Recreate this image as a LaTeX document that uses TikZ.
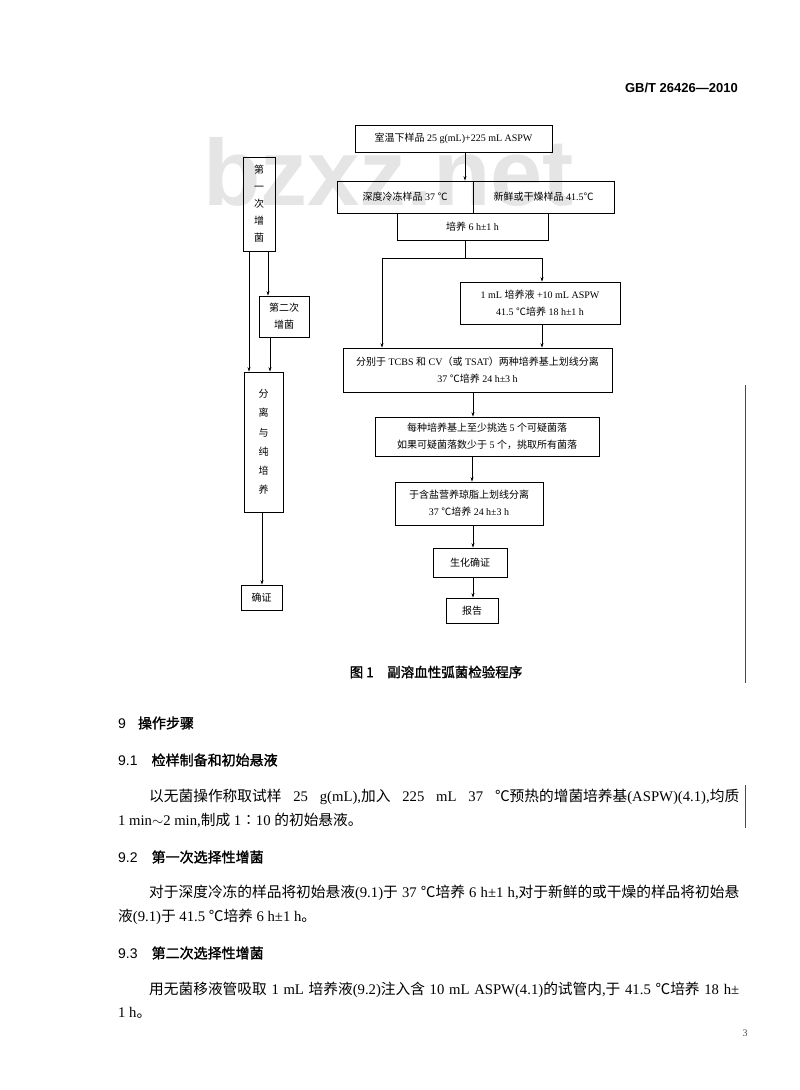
\documentclass[tikz,border=0pt]{standalone}
\usepackage{fontspec}
\setmainfont{Liberation Serif}
\newfontfamily\cjk{Noto Sans CJK SC}
\newfontfamily\cjkb[FakeBold=1.5]{Noto Sans CJK SC}
\newfontfamily\hdr{Liberation Sans}
\newcommand\zh[1]{{\cjk #1}}
\newcommand\zhb[1]{{\cjkb #1}}
\newcommand\fullline[1]{\makebox[590pt][s]{#1}}
\usetikzlibrary{arrows.meta}
\begin{document}
\begin{tikzpicture}[x=1pt,y=-1pt,
  box/.style={draw, line width=0.8pt, inner sep=0pt, align=center, font=\fontsize{10}{17}\selectfont},
  arr/.style={line width=0.6pt, -{Stealth[length=4.5pt,width=3pt]}},
  ln/.style={line width=0.6pt},
  body/.style={anchor=west, inner sep=0pt, font=\fontsize{14.7}{18}\selectfont},
  head/.style={anchor=west, inner sep=0pt, font=\fontsize{14}{18}\selectfont},
  marginline/.style={line width=0.8pt, black!70}]
\fill[white] (0,0) rectangle (800,1090);
\useasboundingbox (0,0) rectangle (800,1090);

% watermark
\node[anchor=base west, inner sep=0pt, text=black!10, font=\hdr\bfseries\fontsize{94}{94}\selectfont] (wmk) at (203,205) {bzxz.net};

% header
\node[anchor=east, inner sep=0pt, font=\hdr\bfseries\fontsize{13}{15}\selectfont] (hd) at (738,88) {GB/T 26426—2010};

% main column
\node[box, minimum width=197pt, minimum height=27pt] (b1) at (453.5,138.5) {\zh{室温下样品} 25 g(mL)+225 mL ASPW};
\node[box, minimum width=136pt, minimum height=32pt] (b2l) at (405,197) {\zh{深度冷冻样品} 37 \zh{℃}};
\node[box, minimum width=141pt, minimum height=32pt] (b2r) at (543.5,197) {\zh{新鲜或干燥样品} 41.5\zh{℃}};
\node[box, minimum width=151pt, minimum height=27pt] (b3) at (472.5,226.5) {\zh{培养} 6 h±1 h};
\node[box, minimum width=160pt, minimum height=42pt] (b4) at (540,303) {1 mL \zh{培养液} +10 mL ASPW\\41.5 \zh{℃培养} 18 h±1 h};
\node[box, minimum width=269pt, minimum height=44pt] (b5) at (477.5,370) {\zh{分别于} TCBS \zh{和} CV\zh{（或} TSAT\zh{）两种培养基上划线分离}\\37 \zh{℃培养} 24 h±3 h};
\node[box, minimum width=224pt, minimum height=39pt] (b6) at (487,436.5) {\zh{每种培养基上至少挑选} 5 \zh{个可疑菌落}\\\zh{如果可疑菌落数少于} 5 \zh{个，挑取所有菌落}};
\node[box, minimum width=148pt, minimum height=43pt] (b7) at (469,503.5) {\zh{于含盐营养琼脂上划线分离}\\37 \zh{℃培养} 24 h±3 h};
\node[box, minimum width=74pt, minimum height=29pt] (b8) at (470,562.5) {\zh{生化确证}};
\node[box, minimum width=52pt, minimum height=25pt] (b9) at (472,610.5) {\zh{报告}};

\coordinate (c1) at (465,181);
\draw[arr] (b1.south -| c1) -- (b2l.north -| c1);
\coordinate (sp) at (465,258);
\coordinate (spl) at (382,258);
\coordinate (spr) at (542,258);
\draw[ln] (b3.south -| sp) -- (sp);
\draw[ln] (spl) -- (spr);
\draw[arr] (spl) -- (b5.north -| spl);
\draw[arr] (spr) -- (b4.north -| spr);
\draw[arr] (b4.south -| spr) -- (b5.north -| spr);
\draw[arr] (b5.south -| 473,0) -- (b6.north -| 473,0);
\draw[arr] (b6.south -| 472,0) -- (b7.north -| 472,0);
\draw[arr] (b7.south -| 473,0) -- (b8.north -| 473,0);
\draw[arr] (b8.south -| 473,0) -- (b9.north -| 473,0);

% left column
\node[box, minimum width=32pt, minimum height=94pt] (l1) at (259,204) {\zh{第}\\\zh{一}\\\zh{次}\\\zh{增}\\\zh{菌}};
\node[box, minimum width=50pt, minimum height=41pt] (l2) at (284,316.5) {\zh{第二次}\\\zh{增菌}};
\node[box, minimum width=39pt, minimum height=140pt, font=\fontsize{10}{19.2}\selectfont] (l3) at (263.5,442) {\zh{分}\\\zh{离}\\\zh{与}\\\zh{纯}\\\zh{培}\\\zh{养}};
\node[box, minimum width=41pt, minimum height=25pt] (l4) at (261.5,597.5) {\zh{确证}};
\draw[arr] (l1.south -| 249,0) -- (l3.north -| 249,0);
\draw[arr] (l1.south -| 268,0) -- (l2.north -| 268,0);
\draw[arr] (l2.south -| 270,0) -- (l3.north -| 270,0);
\draw[arr] (l3.south -| 262,0) -- (l4.north -| 262,0);

% caption
\node[inner sep=0pt, font=\cjkb\fontsize{13.5}{16}\selectfont] (cap) at (436,672) {图 1\hspace{1em}副溶血性弧菌检验程序};

% margin lines
\draw[marginline] (745,385) -- (745,683);
\draw[marginline] (745,785) -- (745,828);

% text
\node[head] (s9) at (118,723) {{\hdr 9}\hspace{12pt}\zhb{操作步骤}};
\node[head] (s91) at (118,760) {{\hdr 9.1}\hspace{14pt}\zhb{检样制备和初始悬液}};
\node[body] (p1a) at (149,797) {\fullline{\zh{以无菌操作称取试样} 25 g(mL),\zh{加入} 225 mL 37 \zh{℃预热的增菌培养基}(ASPW)(4.1),\zh{均质}}};
\node[body] (p1b) at (118,820) {1 min$\sim$2 min,\zh{制成} 1\zh{∶}10 \zh{的初始悬液。}};
\node[head] (s92) at (118,857) {{\hdr 9.2}\hspace{14pt}\zhb{第一次选择性增菌}};
\node[body] (p2a) at (149,893) {\fullline{\zh{对于深度冷冻的样品将初始悬液}(9.1)\zh{于} 37 \zh{℃培养} 6 h±1 h,\zh{对于新鲜的或干燥的样品将初始悬}}};
\node[body] (p2b) at (118,917) {\zh{液}(9.1)\zh{于} 41.5 \zh{℃培养} 6 h±1 h\zh{。}};
\node[head] (s93) at (118,953) {{\hdr 9.3}\hspace{14pt}\zhb{第二次选择性增菌}};
\node[body] (p3a) at (149,990) {\fullline{\zh{用无菌移液管吸取} 1 mL \zh{培养液}(9.2)\zh{注入含} 10 mL ASPW(4.1)\zh{的试管内},\zh{于} 41.5 \zh{℃培养} 18 h±}};
\node[body] (p3b) at (118,1013) {1 h\zh{。}};

% page number
\node[inner sep=0pt, text=black!70, font=\fontsize{10}{12}\selectfont] (pg) at (745,1033) {3};
\end{tikzpicture}
\end{document}
